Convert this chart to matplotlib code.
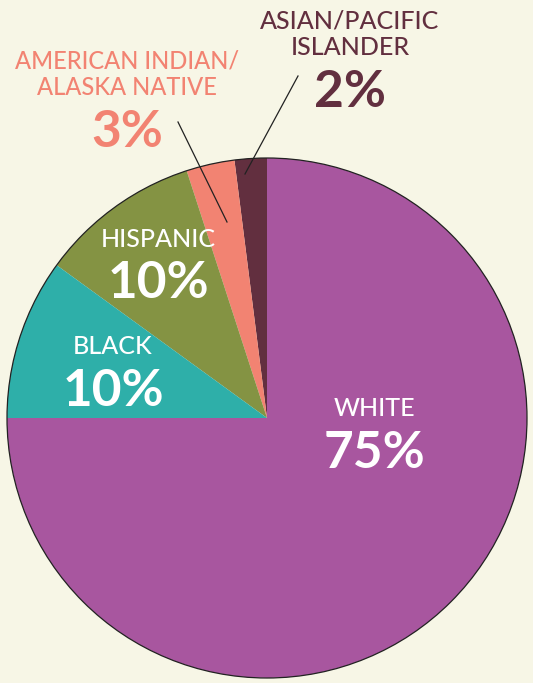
import matplotlib.pyplot as plt
from matplotlib.patches import Circle

groups = ['ASIAN/PACIFIC\nISLANDER', 'AMERICAN INDIAN/\nALASKA NATIVE', 'HISPANIC', 'BLACK', 'WHITE']
shares = [2, 3, 10, 10, 75]
colors = ['#622F3F', '#F28372', '#849343', '#2EAFA9', '#A8569F']

W, H = 533, 683
bg = '#F7F6E6'

plt.rcParams['font.family'] = ['Lato', 'DejaVu Sans']

fig = plt.figure(figsize=(W / 100, H / 100), dpi=100, facecolor=bg)
ax = fig.add_axes([0, 0, 1, 1])
ax.set_facecolor(bg)

def Y(py):
    return H - py

cx, cy, r = 267, Y(418), 260

ax.pie(shares, colors=colors, startangle=90, counterclock=True,
       center=(cx, cy), radius=r, frame=True,
       wedgeprops=dict(linewidth=0))
ax.set_xlim(0, W)
ax.set_ylim(0, H)
ax.set_aspect('equal')
ax.axis('off')
ax.add_patch(Circle((cx, cy), r, fill=False, edgecolor='#222222', linewidth=0.9))

# labels: (x, label baseline, pct baseline, colour, label size)
lab_pos = [
    (350, 55, 107, '#622F3F', 18),
    (127, 95, 147, '#F28372', 17),
    (158, 247, 298, 'white', 18),
    (113, 354, 406, 'white', 18),
    (374, 416, 468, 'white', 18),
]

for name, val, (x, ly, py, c, fs) in zip(groups, shares, lab_pos):
    ax.text(x, Y(ly), name, ha='center', va='baseline', color=c,
            fontsize=fs, fontweight='medium', linespacing=1.2)
    ax.text(x, Y(py), f'{val}%', ha='center', va='baseline', color=c,
            fontsize=37, fontweight='bold')

# leader lines
ax.plot([178, 227], [Y(122), Y(222)], color='#222222', lw=0.9)
ax.plot([298, 245], [Y(76), Y(174)], color='#222222', lw=0.9)

fig.savefig('out.png', dpi=100, facecolor=bg)
